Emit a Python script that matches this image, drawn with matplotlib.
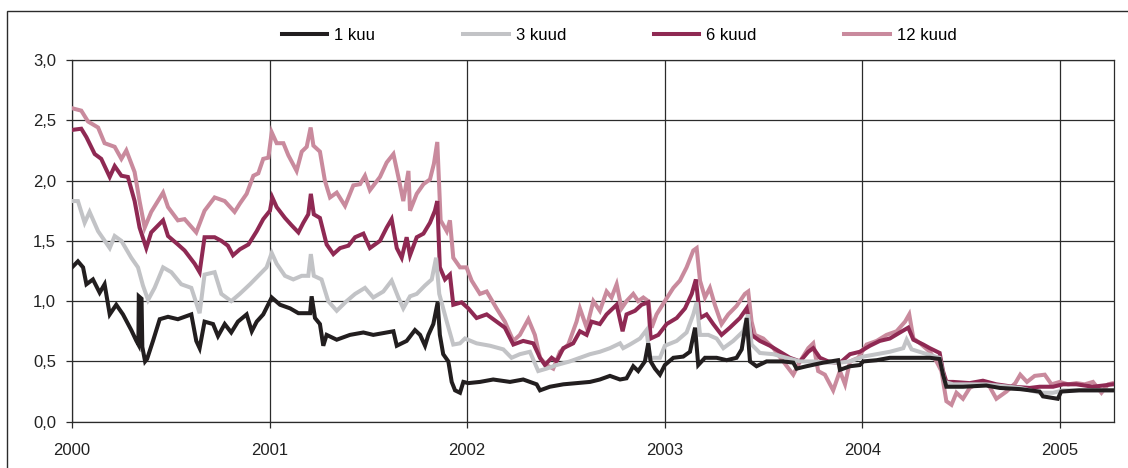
import numpy as np
import matplotlib
matplotlib.use("Agg")
import matplotlib.pyplot as plt
from matplotlib.patches import Rectangle
from matplotlib.ticker import FuncFormatter

# --- Data (x = years since 1 Jan 2000, y = rate in %) ---
x_12m = [0.000, 0.047, 0.081, 0.132, 0.165, 0.216, 0.250, 0.275, 0.317, 0.342, 0.368, 0.401, 0.461, 0.486,
         0.536, 0.570, 0.629, 0.671, 0.722, 0.773, 0.823,
         0.850, 0.884, 0.918, 0.943, 0.968, 0.994, 1.011, 1.036, 1.070, 1.095, 1.137, 1.163, 1.188, 1.208,
         1.222, 1.255, 1.280, 1.306, 1.340, 1.382, 1.424, 1.458, 1.483, 1.508, 1.559, 1.593, 1.627, 1.652,
         1.677, 1.703, 1.711,
         1.745, 1.779, 1.812, 1.832, 1.849, 1.866, 1.897, 1.913, 1.930, 1.964, 1.997, 2.023, 2.065, 2.099,
         2.149, 2.191, 2.234, 2.267, 2.310, 2.343, 2.369, 2.402, 2.436, 2.470, 2.512, 2.554,
         2.571, 2.605, 2.639, 2.672, 2.706, 2.731, 2.757, 2.782, 2.807, 2.841, 2.866, 2.892, 2.917, 2.934,
         2.959, 3.001, 3.044, 3.077, 3.111, 3.145, 3.162, 3.179, 3.204, 3.229, 3.254, 3.288, 3.322, 3.364,
         3.406, 3.423, 3.440,
         3.457, 3.499, 3.550, 3.600, 3.651, 3.685, 3.727, 3.752, 3.777, 3.811, 3.853, 3.887, 3.913, 3.938,
         3.980, 4.022, 4.073, 4.123, 4.174, 4.217, 4.238, 4.259, 4.293,
         4.342, 4.376, 4.401, 4.426, 4.452, 4.477, 4.510, 4.544, 4.578, 4.611, 4.645, 4.679, 4.730, 4.775,
         4.800, 4.834, 4.873, 4.924, 4.958, 5.000, 5.042, 5.084, 5.126, 5.168, 5.211, 5.245, 5.270]
y_12m = [2.60, 2.58, 2.49, 2.44, 2.31, 2.28, 2.18, 2.25, 2.07, 1.83, 1.61, 1.74, 1.90, 1.78,
         1.67, 1.68, 1.57, 1.75, 1.86, 1.83, 1.74,
         1.81, 1.89, 2.04, 2.06, 2.18, 2.19, 2.40, 2.31, 2.31, 2.21, 2.08, 2.24, 2.28, 2.44,
         2.29, 2.24, 2.00, 1.86, 1.90, 1.79, 1.96, 1.97, 2.04, 1.92, 2.03, 2.15, 2.22, 2.03,
         1.83, 2.08, 1.75,
         1.89, 1.97, 2.01, 2.14, 2.32, 1.67, 1.58, 1.67, 1.36, 1.28, 1.28, 1.17, 1.06, 1.08,
         0.94, 0.83, 0.67, 0.72, 0.85, 0.72, 0.53, 0.47, 0.44, 0.58, 0.64, 0.83,
         0.94, 0.78, 1.00, 0.92, 1.08, 1.03, 1.14, 0.94, 1.00, 1.06, 1.00, 1.03, 1.00, 0.78,
         0.89, 1.00, 1.11, 1.17, 1.28, 1.42, 1.44, 1.17, 1.03, 1.11, 0.97, 0.81, 0.89, 0.96,
         1.06, 1.08, 0.83,
         0.72, 0.69, 0.61, 0.50, 0.39, 0.50, 0.61, 0.65, 0.42, 0.39, 0.26, 0.42, 0.31, 0.50,
         0.53, 0.64, 0.67, 0.72, 0.75, 0.83, 0.89, 0.69, 0.65,
         0.58, 0.50, 0.42, 0.17, 0.14, 0.24, 0.19, 0.28, 0.31, 0.33, 0.29, 0.19, 0.25, 0.32,
         0.39, 0.33, 0.38, 0.39, 0.31, 0.33, 0.31, 0.32, 0.31, 0.33, 0.24, 0.31, 0.32]

x_6m = [0.000, 0.047, 0.073, 0.115, 0.148, 0.191, 0.216, 0.250, 0.283, 0.317, 0.342, 0.376, 0.401, 0.461,
        0.486, 0.536, 0.570, 0.621, 0.646, 0.671, 0.722, 0.756, 0.789, 0.815,
        0.850, 0.893, 0.935, 0.968, 1.002, 1.014, 1.036, 1.078, 1.111, 1.146, 1.171, 1.196, 1.209, 1.224,
        1.255, 1.289, 1.323, 1.357, 1.399, 1.433, 1.475, 1.508, 1.559, 1.593, 1.618, 1.644, 1.669, 1.694,
        1.711,
        1.745, 1.779, 1.812, 1.837, 1.849, 1.862, 1.888, 1.913, 1.930, 1.972, 2.006, 2.048, 2.099, 2.149,
        2.191, 2.234, 2.284, 2.335, 2.369, 2.394, 2.428, 2.453, 2.487, 2.537,
        2.571, 2.605, 2.630, 2.672, 2.706, 2.757, 2.787, 2.807, 2.850, 2.883, 2.917, 2.929, 2.968, 3.010,
        3.061, 3.103, 3.137, 3.158, 3.179, 3.212, 3.246, 3.288, 3.330, 3.381, 3.415, 3.440,
        3.482, 3.533, 3.583, 3.634, 3.685, 3.727, 3.752, 3.786, 3.828, 3.862, 3.896, 3.938, 3.988, 4.039,
        4.089, 4.140, 4.191, 4.233, 4.259, 4.309,
        4.342, 4.392, 4.409, 4.426, 4.460, 4.544, 4.611, 4.679, 4.763, 4.848, 4.898, 4.966, 5.017, 5.084,
        5.168, 5.270]
y_6m = [2.42, 2.43, 2.36, 2.22, 2.18, 2.03, 2.12, 2.04, 2.03, 1.83, 1.61, 1.44, 1.57, 1.67,
        1.54, 1.47, 1.42, 1.31, 1.24, 1.53, 1.53, 1.50, 1.46, 1.38,
        1.43, 1.47, 1.58, 1.68, 1.75, 1.86, 1.78, 1.69, 1.63, 1.57, 1.65, 1.72, 1.89, 1.72,
        1.69, 1.47, 1.39, 1.44, 1.46, 1.53, 1.56, 1.44, 1.50, 1.61, 1.68, 1.44, 1.36, 1.53,
        1.38,
        1.53, 1.56, 1.65, 1.75, 1.83, 1.28, 1.18, 1.22, 0.97, 0.99, 0.94, 0.86, 0.89, 0.83,
        0.78, 0.64, 0.67, 0.65, 0.53, 0.47, 0.53, 0.50, 0.61, 0.65,
        0.75, 0.72, 0.83, 0.81, 0.89, 0.97, 0.75, 0.89, 0.92, 0.97, 0.99, 0.69, 0.72, 0.81,
        0.86, 0.94, 1.06, 1.18, 0.86, 0.89, 0.81, 0.72, 0.78, 0.86, 0.94, 0.72,
        0.67, 0.63, 0.58, 0.53, 0.50, 0.58, 0.61, 0.53, 0.50, 0.49, 0.50, 0.56, 0.58, 0.63,
        0.67, 0.69, 0.74, 0.78, 0.68, 0.64,
        0.61, 0.57, 0.42, 0.33, 0.33, 0.32, 0.34, 0.31, 0.29, 0.28, 0.29, 0.29, 0.31, 0.31,
        0.29, 0.31]

x_3m = [0.000, 0.030, 0.064, 0.089, 0.132, 0.191, 0.216, 0.250, 0.300, 0.334, 0.359, 0.385, 0.418, 0.461,
        0.503, 0.553, 0.604, 0.646, 0.671, 0.722, 0.756, 0.806, 0.849,
        0.901, 0.943, 0.985, 1.011, 1.036, 1.078, 1.120, 1.163, 1.196, 1.209, 1.224, 1.263, 1.297, 1.340,
        1.390, 1.433, 1.483, 1.525, 1.576, 1.618, 1.652, 1.677, 1.711,
        1.745, 1.787, 1.821, 1.843, 1.859, 1.897, 1.930, 1.964, 1.989, 2.048, 2.116, 2.183, 2.225, 2.267,
        2.318, 2.360, 2.402, 2.453, 2.520,
        2.571, 2.622, 2.672, 2.723, 2.774, 2.790, 2.824, 2.875, 2.908, 2.925, 2.976, 3.001, 3.061, 3.111,
        3.145, 3.162, 3.179, 3.221, 3.263, 3.297, 3.347, 3.398, 3.423, 3.440,
        3.482, 3.550, 3.617, 3.685, 3.752, 3.820, 3.887, 3.938, 4.005, 4.073, 4.140, 4.208, 4.225, 4.250,
        4.309,
        4.392, 4.418, 4.460, 4.628, 4.800, 4.898, 4.966, 5.017, 5.135, 5.270]
y_3m = [1.83, 1.83, 1.65, 1.74, 1.58, 1.44, 1.54, 1.50, 1.36, 1.28, 1.13, 1.01, 1.11, 1.28,
        1.24, 1.14, 1.11, 0.90, 1.22, 1.24, 1.06, 1.00, 1.06,
        1.14, 1.21, 1.28, 1.40, 1.31, 1.21, 1.18, 1.21, 1.21, 1.39, 1.21, 1.18, 1.00, 0.92,
        1.00, 1.06, 1.11, 1.03, 1.08, 1.17, 1.03, 0.94, 1.04,
        1.06, 1.13, 1.18, 1.36, 1.06, 0.83, 0.64, 0.65, 0.69, 0.65, 0.63, 0.60, 0.53, 0.56,
        0.58, 0.42, 0.44, 0.47, 0.50,
        0.53, 0.56, 0.58, 0.61, 0.65, 0.61, 0.64, 0.69, 0.76, 0.53, 0.53, 0.63, 0.67, 0.74,
        0.89, 0.99, 0.72, 0.72, 0.69, 0.61, 0.67, 0.75, 0.89, 0.64,
        0.57, 0.56, 0.53, 0.50, 0.50, 0.49, 0.49, 0.50, 0.54, 0.56, 0.58, 0.61, 0.68, 0.60,
        0.57,
        0.53, 0.33, 0.31, 0.31, 0.28, 0.24, 0.24, 0.26, 0.26, 0.26]

x_1m = [0.000, 0.030, 0.056, 0.073, 0.106, 0.140, 0.165, 0.191, 0.224, 0.258, 0.300, 0.326, 0.336, 0.338,
        0.352, 0.356, 0.370, 0.380, 0.410, 0.444, 0.486, 0.536, 0.604, 0.629, 0.646, 0.671, 0.714, 0.739,
        0.773, 0.806, 0.840,
        0.884, 0.910, 0.935, 0.968, 1.011, 1.053, 1.104, 1.146, 1.205, 1.213, 1.230, 1.255, 1.272, 1.289,
        1.340, 1.407, 1.475, 1.525, 1.593, 1.627, 1.644, 1.694, 1.736,
        1.762, 1.787, 1.804, 1.829, 1.851, 1.862, 1.879, 1.905, 1.922, 1.939, 1.964, 1.981, 2.006, 2.065,
        2.132, 2.217, 2.284, 2.352, 2.369, 2.419, 2.487, 2.554,
        2.622, 2.672, 2.723, 2.774, 2.807, 2.841, 2.866, 2.900, 2.917, 2.929, 2.951, 2.976, 3.001, 3.044,
        3.094, 3.128, 3.154, 3.170, 3.204, 3.263, 3.314, 3.364, 3.390, 3.415, 3.432, 3.465,
        3.516, 3.600, 3.651, 3.668, 3.718, 3.803, 3.878, 3.887, 3.938, 3.988, 4.005, 4.073, 4.140, 4.241,
        4.343,
        4.392, 4.409, 4.426, 4.510, 4.628, 4.696, 4.800, 4.898, 4.915, 4.990, 5.007, 5.098, 5.270]
y_1m = [1.28, 1.33, 1.28, 1.14, 1.18, 1.07, 1.14, 0.89, 0.97, 0.89, 0.76, 0.67, 0.64, 1.04,
        1.02, 0.62, 0.50, 0.52, 0.67, 0.85, 0.87, 0.85, 0.89, 0.67, 0.61, 0.83, 0.81, 0.71,
        0.81, 0.74, 0.83,
        0.89, 0.75, 0.83, 0.89, 1.03, 0.97, 0.94, 0.90, 0.90, 1.04, 0.86, 0.81, 0.63, 0.72,
        0.68, 0.72, 0.74, 0.72, 0.74, 0.75, 0.63, 0.67, 0.76,
        0.72, 0.63, 0.72, 0.81, 0.99, 0.72, 0.56, 0.50, 0.33, 0.26, 0.24, 0.33, 0.32, 0.33,
        0.35, 0.33, 0.35, 0.31, 0.26, 0.29, 0.31, 0.32,
        0.33, 0.35, 0.38, 0.35, 0.36, 0.46, 0.42, 0.50, 0.65, 0.50, 0.44, 0.39, 0.47, 0.53,
        0.54, 0.58, 0.78, 0.47, 0.53, 0.53, 0.51, 0.53, 0.60, 0.86, 0.50, 0.46,
        0.50, 0.50, 0.49, 0.44, 0.46, 0.49, 0.51, 0.43, 0.46, 0.47, 0.50, 0.51, 0.53, 0.53,
        0.53,
        0.52, 0.39, 0.29, 0.29, 0.30, 0.28, 0.27, 0.25, 0.21, 0.19, 0.25, 0.26, 0.26]

labels = ["1 kuu", "3 kuud", "6 kuud", "12 kuud"]
years = [2000, 2001, 2002, 2003, 2004, 2005]
y_ticks = [0.0, 0.5, 1.0, 1.5, 2.0, 2.5, 3.0]

BLACK = "#221e1f"
GREY = "#c2c3c6"
MAROON = "#8f2953"
PINK = "#c98a9d"

plt.rcParams["font.family"] = ["Liberation Sans", "DejaVu Sans"]
FS = 12

fig = plt.figure(figsize=(11.28, 4.68), dpi=100)
ax = fig.add_axes([72 / 1128, 1 - 421.7 / 468, (1113.7 - 72) / 1128, (421.7 - 60) / 468])

lw = 2.9
series = [
    (x_12m, y_12m, PINK, labels[3]),
    (x_6m, y_6m, MAROON, labels[2]),
    (x_3m, y_3m, GREY, labels[1]),
    (x_1m, y_1m, BLACK, labels[0]),
]
handles = {}
for i, (xs, ys, col, lab) in enumerate(series):
    h, = ax.plot(2000 + np.array(xs), ys, color=col, lw=lw, label=lab,
                 solid_joinstyle="miter", zorder=3 + i)
    handles[lab] = h

ax.set_xlim(2000, 2005.273)
ax.set_ylim(0, 3.0)
ax.set_xticks(years)
ax.set_xticklabels([str(y) for y in years])
ax.set_yticks(y_ticks)
ax.yaxis.set_major_formatter(FuncFormatter(lambda v, p: f"{v:.1f}".replace(".", ",")))

ax.grid(True, color="#2b2b2b", lw=0.9)
for sp in ax.spines.values():
    sp.set_color("#2b2b2b")
    sp.set_linewidth(0.9)
ax.tick_params(axis="y", direction="out", length=4, width=0.9, color="#2b2b2b",
               labelsize=FS, pad=7.5, labelcolor="#222222")
ax.tick_params(axis="x", direction="out", length=4, width=0.9, color="#2b2b2b",
               labelsize=FS, pad=11, labelcolor="#222222")

fig.legend([handles[l] for l in labels], labels, loc="center", ncol=4,
           bbox_to_anchor=(0.549, 0.925), frameon=False, fontsize=FS,
           handlelength=2.75, handletextpad=0.42, columnspacing=5.25)

# outer frame of the figure
fig.patches.append(Rectangle((7 / 1128, -0.1), 1.2, 1.1 - 11 / 468,
                             transform=fig.transFigure, fill=False,
                             edgecolor="#2b2b2b", lw=1.0))

fig.savefig("out.png", dpi=100)
